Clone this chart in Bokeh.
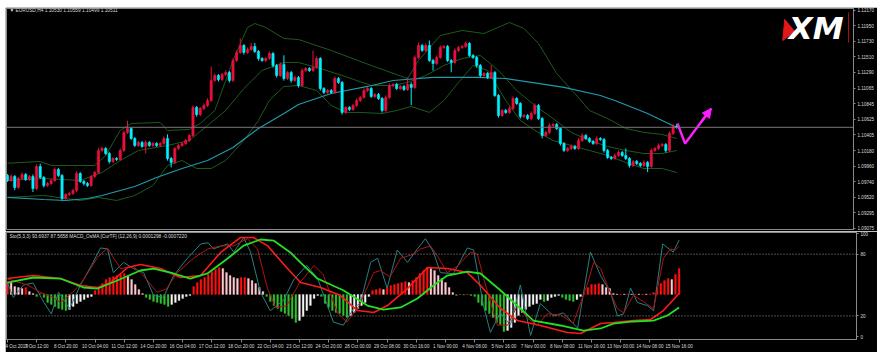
from bokeh.plotting import figure
from bokeh.layouts import column, row
from bokeh.models import (Range1d, FixedTicker, Span, Label, Spacer,
                          ColumnDataSource, Arrow, NormalHead, PrintfTickFormatter)
from bokeh.embed import file_html
from bokeh.resources import INLINE

# ---------------- data ----------------
title_main = "▼ EURUSD,H4  1.10530 1.10559 1.10499 1.10511"
title_sub = "Sto(5,3,3) 93.6937 87.5658   MACD_OsMA [CurTF] (12,26,9) 0.0001298 -0.0007220"

first_open = 1.09827
close = [
    1.09756, 1.09813, 1.09657, 1.09784, 1.09841, 1.09770, 1.09813, 1.09642, 1.09955, 1.09799,
    1.09685, 1.09713, 1.09756, 1.09912, 1.09827, 1.09500, 1.09557, 1.09571, 1.09614, 1.09855,
    1.09742, 1.09713, 1.09685, 1.09813, 1.09870, 1.10182, 1.10210, 1.10139, 1.10026, 1.10068,
    1.10054, 1.10182, 1.10438, 1.10494, 1.10352, 1.10253, 1.10296, 1.10239, 1.10296, 1.10253,
    1.10281, 1.10253, 1.10281, 1.10352, 1.10068, 1.10012, 1.10210, 1.10253, 1.10281, 1.10324,
    1.10395, 1.10793, 1.10693, 1.10778, 1.10821, 1.10892, 1.11176, 1.11247, 1.11190, 1.11261,
    1.11290, 1.11176, 1.11460, 1.11574, 1.11673, 1.11574, 1.11616, 1.11659, 1.11588, 1.11488,
    1.11460, 1.11488, 1.11559, 1.11389, 1.11247, 1.11403, 1.11204, 1.11290, 1.11176, 1.11219,
    1.11105, 1.11318, 1.11346, 1.11318, 1.11361, 1.11488, 1.11062, 1.11006, 1.11034, 1.11006,
    1.11204, 1.11148, 1.10722, 1.10793, 1.10764, 1.10821, 1.10892, 1.10935, 1.11034, 1.11062,
    1.10949, 1.10977, 1.10920, 1.10750, 1.10935, 1.11105, 1.11119, 1.11062, 1.11091, 1.11048,
    1.11119, 1.11077, 1.11503, 1.11673, 1.11602, 1.11673, 1.11460, 1.11417, 1.11503, 1.11645,
    1.11659, 1.11460, 1.11432, 1.11602, 1.11645, 1.11659, 1.11701, 1.11531, 1.11503, 1.11389,
    1.11247, 1.11275, 1.11219, 1.11290, 1.10963, 1.10679, 1.10750, 1.10722, 1.10778, 1.10920,
    1.10849, 1.10665, 1.10679, 1.10636, 1.10707, 1.10821, 1.10636, 1.10395, 1.10438, 1.10537,
    1.10551, 1.10494, 1.10281, 1.10182, 1.10210, 1.10239, 1.10210, 1.10324, 1.10395, 1.10352,
    1.10310, 1.10281, 1.10352, 1.10338, 1.10182, 1.10083, 1.10068, 1.10111, 1.10154, 1.10111,
    1.10068, 1.09969, 1.10026, 1.09997, 1.09969, 1.10012, 1.09955, 1.10182, 1.10210, 1.10253,
    1.10267, 1.10182, 1.10423, 1.10530, 1.10511,
]
# wick lengths beyond the body, in pips
wick_up = [
    2, 3, 2, 2, 3, 2, 2, 3, 3, 4,   2, 2, 2, 3, 2, 2, 2, 2, 2, 3,
    2, 2, 2, 2, 2, 4, 3, 2, 2, 2,   2, 3, 3, 11, 2, 2, 2, 2, 3, 2,
    2, 2, 2, 3, 6, 2, 2, 2, 2, 2,   2, 3, 2, 2, 3, 3, 20, 3, 2, 2,
    3, 2, 3, 3, 10, 2, 3, 5, 5, 2,  2, 2, 3, 2, 2, 3, 13, 2, 2, 3,
    2, 3, 2, 2, 24, 3, 2, 2, 2, 2,  3, 2, 2, 2, 2, 2, 3, 2, 3, 2,
    2, 2, 2, 2, 3, 3, 2, 2, 2, 2,   10, 3, 3, 4, 2, 3, 7, 2, 3, 3,
    2, 2, 2, 3, 2, 2, 3, 2, 2, 2,   2, 2, 2, 10, 2, 2, 2, 2, 3, 3,
    2, 2, 2, 2, 3, 3, 2, 2, 2, 3,   2, 2, 2, 2, 2, 3, 2, 3, 3, 2,
    2, 2, 3, 2, 2, 2, 2, 3, 3, 2,   10, 2, 2, 2, 2, 3, 2, 3, 2, 3,
    2, 2, 3, 3, 3,
]
wick_dn = [
    2, 2, 4, 2, 2, 2, 2, 5, 2, 2,   3, 2, 2, 2, 2, 3, 2, 2, 2, 2,
    2, 3, 2, 2, 2, 2, 2, 2, 3, 2,   2, 2, 2, 2, 2, 2, 2, 2, 10, 2,
    2, 2, 2, 2, 3, 7, 2, 2, 2, 2,   2, 2, 3, 2, 2, 2, 2, 2, 3, 2,
    2, 3, 2, 2, 2, 3, 2, 2, 2, 3,   2, 2, 2, 3, 3, 2, 3, 2, 3, 2,
    3, 2, 2, 2, 2, 2, 3, 2, 2, 2,   2, 2, 3, 2, 2, 2, 2, 2, 2, 2,
    2, 2, 2, 3, 2, 2, 2, 2, 2, 2,   2, 25, 2, 2, 2, 2, 2, 10, 2, 2,
    2, 2, 14, 2, 2, 2, 2, 2, 2, 3,  3, 2, 2, 2, 2, 3, 2, 2, 2, 2,
    2, 3, 2, 2, 2, 2, 2, 4, 2, 2,   2, 2, 3, 2, 2, 2, 2, 2, 2, 2,
    2, 2, 2, 2, 3, 2, 2, 2, 2, 2,   2, 3, 2, 2, 2, 2, 8, 2, 2, 2,
    2, 3, 2, 2, 2,
]

# moving average (teal) and Bollinger bands (dark green): bar index, price
ma_i = [0, 10, 16, 22, 26, 35, 41, 48, 55, 62, 69, 76, 80, 89, 99, 106, 117, 129, 137, 144, 153, 163, 167, 176, 184]
ma_v = [1.09515, 1.09486, 1.09472, 1.09500, 1.09543, 1.09671, 1.09799, 1.09926, 1.10040, 1.10225,
        1.10494, 1.10707, 1.10835, 1.10991, 1.11091, 1.11176, 1.11219, 1.11219, 1.11204, 1.11148,
        1.11077, 1.10963, 1.10892, 1.10707, 1.10509]
bb_up_i = [0, 9, 12, 24, 27, 31, 34, 42, 44, 50, 53, 57, 62, 66, 68, 71, 76, 80, 89, 100, 110, 113,
           119, 125, 131, 138, 142, 146, 151, 156, 160, 165, 170, 175, 180, 184]
bb_up_v = [1.10001, 1.10026, 1.09969, 1.09969, 1.10111, 1.10466, 1.10565, 1.10580, 1.10466, 1.10480,
           1.10565, 1.10750, 1.11460, 1.11929, 1.11985, 1.11929, 1.11772, 1.11758, 1.11602, 1.11389,
           1.11204, 1.11460, 1.11815, 1.11886, 1.11843, 1.11999, 1.11914, 1.11701, 1.11275, 1.10991,
           1.10750, 1.10636, 1.10494, 1.10438, 1.10409, 1.10352]
bb_mid_i = [0, 10, 20, 26, 31, 36, 44, 50, 55, 60, 65, 70, 76, 80, 86, 92, 100, 106, 110, 115, 120,
            125, 130, 135, 140, 145, 150, 155, 160, 165, 170, 175, 180, 184]
bb_mid_v = [1.09756, 1.09784, 1.09756, 1.09870, 1.10040, 1.10182, 1.10253, 1.10324, 1.10537, 1.10750,
            1.11062, 1.11318, 1.11432, 1.11432, 1.11346, 1.11247, 1.11105, 1.11105, 1.11148, 1.11247,
            1.11389, 1.11488, 1.11531, 1.11318, 1.11034, 1.10821, 1.10636, 1.10438, 1.10324, 1.10239,
            1.10182, 1.10139, 1.10139, 1.10182]
bb_lo_i = [0, 10, 20, 25, 30, 35, 40, 44, 48, 52, 56, 60, 65, 69, 72, 76, 80, 85, 89, 93, 97, 103,
           107, 111, 116, 120, 124, 128, 132, 137, 141, 145, 150, 155, 160, 165, 170, 175, 180, 184]
bb_lo_v = [1.09515, 1.09543, 1.09472, 1.09515, 1.09472, 1.09543, 1.09685, 1.09969, 1.10040, 1.09926,
           1.09926, 1.10040, 1.10324, 1.10608, 1.10892, 1.11091, 1.11105, 1.11034, 1.10821, 1.10722,
           1.10722, 1.10707, 1.10750, 1.10807, 1.10722, 1.10892, 1.11148, 1.11389, 1.11318, 1.10892,
           1.10608, 1.10466, 1.10324, 1.10253, 1.10182, 1.10111, 1.10012, 1.09926, 1.09926, 1.09870]

# hand-drawn magenta arrow: bar index, price
arrow_i = [184.2, 186.3, 193.5]
arrow_p = [1.10565, 1.10281, 1.10778]

price_ticks = [1.12170, 1.11950, 1.11730, 1.11510, 1.11290, 1.11065, 1.10845, 1.10625,
               1.10405, 1.10180, 1.09960, 1.09740, 1.09520, 1.09295, 1.09075]

time_labels = ["4 Oct 2019", "7 Oct 12:00", "8 Oct 20:00", "10 Oct 04:00", "11 Oct 12:00",
               "14 Oct 20:00", "16 Oct 04:00", "17 Oct 12:00", "18 Oct 20:00", "22 Oct 04:00",
               "23 Oct 12:00", "24 Oct 20:00", "28 Oct 00:00", "29 Oct 08:00", "30 Oct 16:00",
               "1 Nov 00:00", "4 Nov 08:00", "5 Nov 16:00", "7 Nov 00:00", "8 Nov 08:00",
               "11 Nov 16:00", "13 Nov 00:00", "14 Nov 08:00", "15 Nov 16:00"]
bars_per_label = 8

# OsMA histogram (units of 5e-6)
osma = [
    13, 12, 8, 7, 6, 7, 3, 1, -2, 1,   -3, -8, -10, -12, -14, -15, -16, -15, -12, -9,
    -7, -5, -3, -2, 4, 7, 11, 15, 17, 18,   19, 20, 21, 19, 15, 10, 5, 1, -3, -5,
    -7, -8, -9, -10, -12, -10, -8, -6, -4, -2,   -1, 8, 12, 15, 17, 20, 23, 25, 27, 26,
    22, 19, 17, 16, 17, 17, 16, 14, 11, 7,   3, -2, -7, -11, -14, -17, -19, -21, -24, -28,
    -26, -22, -16, -11, -4, -1, -2, -9, -13, -16,   -18, -19, -21, -23, -21, -18, -14, -11, -8, -2,
    4, 5, 6, 5, 7, 9, 10, 11, 12, 13,   12, 14, 17, 21, 24, 27, 26, 24, 19, 16,
    12, 7, 2, -1, 0.5, -0.5, 0.5, -1, -2, -8,   -11, -16, -19, -23, -28, -30, -37, -36, -33, -28,
    -21, -18, -15, -12, -10, -9, -5, -7, -6, -3,   -2, -1, -3, -5, -6, -7, -5, -2, 1, 7,
    10, 10, 11, 10, 7, 6, 1, 0.5, 0.6, 0.5,   0.6, 0.5, 0.6, 0.5, 0.6, 0.5, 0.6, 2, 7, 11,
    14, 16, 15, 20, 26,
]

# Stochastic main / signal and MACD lines (0-100 pane scale): bar index, value
sto_i = [0, 1.6, 4.4, 7, 10, 12, 14, 17, 20, 23, 25.5, 27.4, 29, 31.8, 34.5, 37.3, 40, 42.7, 45.5, 49.3,
         53, 55, 56.4, 60.3, 62, 64.7, 66.6, 69.3, 72, 75.6, 78.4, 82, 85, 89.3, 92, 94.8, 96.7, 99.5,
         101.4, 104, 106.8, 109.6, 112.3, 114.5, 116.7, 118.6, 122.2, 126, 127.7, 130.4, 132.3, 135,
         137.8, 140.5, 143.3, 146, 149.6, 152.3, 156.2, 159.7, 162.5, 165.2, 167.1, 168.8, 170.7,
         172.6, 175.3, 177, 179.5, 181.6, 182.4, 184]
sto_v = [52, 38, 50, 52, 33, 22, 43, 27, 50, 69, 86, 85, 62, 72, 66, 62, 40, 38, 59, 76,
         90, 91, 85, 90, 82, 96, 82, 43, 25, 35, 55, 69, 56, 14, 11, 27, 33, 72,
         76, 47, 84, 72, 85, 95, 82, 62, 61, 86, 84, 30, 4, 23,
         11, 50, 1, 32, 20, 23, 8, 82, 59, 43, 20, 22, 47,
         33, 30, 25, 90, 84, 82, 93.7]
sig_i = [0, 5.5, 9, 12.5, 14.5, 18.5, 21, 24.7, 27.4, 29.3, 31, 34.5, 37, 41, 43.5, 46.5, 51, 54.8,
         58.5, 62, 65.7, 68.5, 71.2, 73.5, 76.5, 80, 84, 86.5, 90.4, 93, 96.4, 100.3, 102.2, 104.8,
         107.7, 111.3, 113.2, 115.9, 117.8, 120.5, 123.2, 126.9, 128.7, 131.5, 134.2, 137, 139.7,
         142.4, 145.1, 147.9, 151.5, 155, 158.8, 160.6, 162.5, 164.3, 167.1, 168.8, 171.5, 174.2,
         177, 179.7, 181.6, 183, 184]
sig_v = [56, 50, 43, 38, 33, 45, 56, 77, 86, 75, 66, 68, 60, 43, 46, 62, 76, 85,
         88, 88, 95, 85, 47, 28, 30, 52, 69, 60, 23, 14, 30, 62, 64, 58,
         76, 80, 85, 88, 78, 62, 68, 82, 80, 43, 11, 11, 30,
         18, 11, 22, 21, 13, 50, 72, 66, 50, 27, 23, 40, 34,
         27, 76, 85, 84, 87.6]
macd_i = [0, 7.1, 14.5, 20, 24.7, 28.2, 32.9, 36.4, 41.9, 47.4, 52.9, 58.4, 63.8, 67.4, 71.2, 76.7,
          80.3, 85.8, 91.2, 95.9, 100.3, 104.1, 109.6, 115.1, 120.5, 126, 129.6, 135.1, 139.7, 146,
          153.4, 157, 162.5, 166, 171.5, 176.2, 179.7, 184]
macd_v = [56.3, 59.2, 56.3, 49.5, 47.6, 52.4, 67.0, 69.9, 66.0, 57.3, 59.2, 81.6, 96.1, 96.1, 88.3, 66.0,
          52.4, 47.6, 39.8, 25.2, 23.3, 30.1, 46.6, 67.0, 66.0, 62.1, 49.5, 27.2, 15.5, 10.7,
          3.9, 2.9, 12.6, 13.6, 15.5, 16.5, 25.2, 41.7]
msig_i = [0, 7.1, 14.5, 20.8, 24.7, 30.1, 36.4, 40, 45.5, 50.1, 54.8, 60.3, 64.7, 69.3, 72.9, 77.5,
          80.3, 84.9, 92.1, 98.6, 103, 107.7, 112.3, 116.7, 120.5, 126, 129.6, 135.1, 140.5, 144.1,
          151.5, 157.8, 162.5, 166, 171.5, 177, 180.8, 184]
msig_v = [52.4, 57.3, 56.3, 47.6, 46.6, 54.4, 64.1, 66.0, 61.2, 56.3, 61.2, 75.7, 88.3, 94.2, 93.2, 81.6,
          71.8, 56.3, 44.7, 30.1, 26.2, 28.2, 36.9, 49.5, 59.2, 63.1, 61.2, 44.7, 27.2, 15.5,
          10.7, 5.8, 7.8, 12.6, 14.6, 15.5, 20.4, 28.2]
sto_levels = [80, 20]
sto_ticks = [100, 80, 20, 0]

# ---------------- build ----------------
n = len(close)
opens = [first_open] + close[:-1]
idx = list(range(n))
highs = [max(o, c) + wu * 1e-4 for o, c, wu in zip(opens, close, wick_up)]
lows = [min(o, c) - wd * 1e-4 for o, c, wd in zip(opens, close, wick_dn)]
BULL, BEAR = "#e8103c", "#00f0ff"
ccol = [BULL if c >= o else BEAR for o, c in zip(opens, close)]
src = ColumnDataSource(dict(x=idx, top=[max(o, c) for o, c in zip(opens, close)],
                            bot=[min(o, c) for o, c in zip(opens, close)],
                            hi=highs, lo=lows, col=ccol))

FONT = "Liberation Sans"
TXT = "#dcdcdc"
GRAY = "#8a8a8a"

xr = Range1d(-0.27, 232.6)

pm = figure(width=872, height=224, x_range=xr, y_range=Range1d(1.09060, 1.12198),
            output_backend="svg", toolbar_location=None, x_axis_location=None,
            y_axis_location="right", min_border_left=1, min_border_right=21,
            min_border_top=1, min_border_bottom=2,
            background_fill_color="black", border_fill_color="black",
            outline_line_color=GRAY)
pm.grid.visible = False
ya = pm.yaxis[0]
ya.ticker = FixedTicker(ticks=price_ticks)
ya.formatter = PrintfTickFormatter(format="%.5f")
ya.major_label_text_font = FONT
ya.major_label_text_font_size = "4.6px"
ya.major_label_text_color = TXT
ya.axis_line_color = GRAY
ya.major_tick_line_color = GRAY
ya.major_tick_in = 0
ya.major_tick_out = 2
ya.minor_tick_line_color = None
ya.major_label_standoff = 2

# bands and MA
pm.line(bb_up_i, bb_up_v, color="#1d5a1d", line_width=1)
pm.line(bb_mid_i, bb_mid_v, color="#1d5a1d", line_width=1)
pm.line(bb_lo_i, bb_lo_v, color="#1d5a1d", line_width=1)
pm.line(ma_i, ma_v, color="#1f9aab", line_width=1.2)

# price line
pm.add_layout(Span(location=close[-1], dimension="width", line_color="#777777", line_width=1))

# candles
pm.segment(x0="x", y0="hi", x1="x", y1="lo", color="col", line_width=1, source=src)
pm.vbar(x="x", width=0.62, top="top", bottom="bot", fill_color="col", line_color="col",
        line_width=0.6, source=src)

# magenta arrow
pm.line(arrow_i, arrow_p, color="#ff1cff", line_width=2.4)
pm.add_layout(Arrow(end=NormalHead(size=9, fill_color="#ff1cff", line_color="#ff1cff"),
                    x_start=arrow_i[-2] + 0.6 * (arrow_i[-1] - arrow_i[-2]),
                    y_start=arrow_p[-2] + 0.6 * (arrow_p[-1] - arrow_p[-2]),
                    x_end=arrow_i[-1], y_end=arrow_p[-1],
                    line_color="#ff1cff", line_width=2.4))

# header text
pm.add_layout(Label(x=3, x_units="screen", y=1.12170, text=title_main, text_font=FONT,
                    text_font_size="4.8px", text_color=TXT, text_baseline="middle"))
# current price box
pm.add_layout(Label(x=852, x_units="screen", y=close[-1], text=f"{close[-1]:.5f}", text_font=FONT,
                    text_font_size="4.6px", text_color="black", text_baseline="middle",
                    background_fill_color="white", border_line_color="#bbbbbb"))

# XM logo (placed in bar / price space near the top right)
def bx(px):
    return (px - 7) / 3.65

def py(px):
    return 1.12312 - 0.000142 * px

pm.patch([bx(787), bx(785), bx(797)], [py(19), py(40), py(31)], color="#e01818")
pm.add_layout(Label(x=bx(791), y=py(46), text="XM", text_font="DejaVu Sans",
                    text_font_style="bold italic", text_font_size="31px", text_color="white"))
pm.segment(x0=[bx(851)], y0=[py(12)], x1=[bx(851)], y1=[py(42)], color="#b01010", line_width=1)

# ---------------- sub pane ----------------
ps = figure(width=872, height=121, x_range=xr, y_range=Range1d(-2.9, 101),
            output_backend="svg", toolbar_location=None, y_axis_location="right",
            min_border_left=1, min_border_right=21, min_border_top=1, min_border_bottom=13,
            background_fill_color="black", border_fill_color="black", outline_line_color=GRAY)
ps.grid.visible = False
ps.extra_y_ranges = {"osma": Range1d(-45, 62)}
sy = ps.yaxis[0]
sy.ticker = FixedTicker(ticks=sto_ticks)
sy.major_label_text_font = FONT
sy.major_label_text_font_size = "4.6px"
sy.major_label_text_color = TXT
sy.axis_line_color = GRAY
sy.major_tick_line_color = GRAY
sy.major_tick_in = 0
sy.major_tick_out = 2
sy.minor_tick_line_color = None
sy.major_label_standoff = 2
xa = ps.xaxis[0]
xa.ticker = FixedTicker(ticks=[k * bars_per_label for k in range(len(time_labels))])
xa.major_label_overrides = {k * bars_per_label: t for k, t in enumerate(time_labels)}
xa.major_label_text_font = FONT
xa.major_label_text_font_size = "4.6px"
xa.major_label_text_color = TXT
xa.major_label_text_align = "left"
xa.axis_line_color = GRAY
xa.major_tick_line_color = GRAY
xa.major_tick_in = 0
xa.major_tick_out = 3
xa.minor_tick_line_color = None
xa.major_label_standoff = 1

for lv in sto_levels:
    ps.add_layout(Span(location=lv, dimension="width", line_color="#9a9a9a", line_width=1,
                       line_dash="1 2"))

# histogram colours: rising above zero red, falling above zero pink,
# falling below zero green, rising below zero white
hcol = []
for k, v in enumerate(osma):
    prev = osma[k - 1] if k > 0 else v
    if v >= 0:
        hcol.append("#ff1010" if v >= prev else "#ffc8d0")
    else:
        hcol.append("#30c030" if v < prev else "#f4f4f4")
ps.vbar(x=list(range(len(osma))), top=osma, bottom=0, width=0.5, fill_color=hcol,
        line_color=hcol, line_width=0.3, y_range_name="osma")

ps.line(sto_i, sto_v, color="#2a7f80", line_width=1)
ps.line(sig_i, sig_v, color="#b01414", line_width=1)
ps.line(macd_i, macd_v, color="#ff1a1a", line_width=1.6)
ps.line(msig_i, msig_v, color="#22e022", line_width=1.8)

ps.add_layout(Label(x=3, x_units="screen", y=97.5, text=title_sub, text_font=FONT,
                    text_font_size="4.8px", text_color=TXT, text_baseline="middle"))

layout = column(Spacer(height=7, width=886),
                row(Spacer(width=5, height=224), pm),
                row(Spacer(width=5, height=121), ps))

with open("out.html", "w") as f:
    f.write(file_html(layout, INLINE))
